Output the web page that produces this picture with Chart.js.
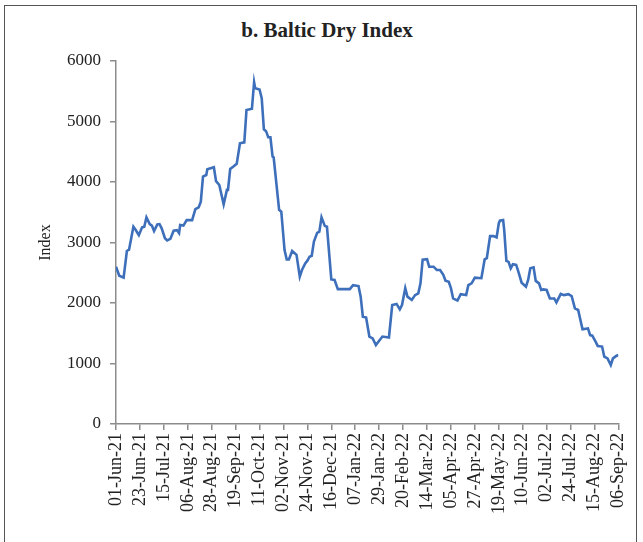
<!DOCTYPE html>
<html>
<head>
<meta charset="utf-8">
<script src="https://cdn.jsdelivr.net/npm/chart.js@4/dist/chart.umd.min.js"></script>
<style>
html,body{margin:0;padding:0;background:#fff;overflow:hidden;}
#frame{position:absolute;left:4px;top:5px;width:633px;height:560px;border:1px solid #555;box-sizing:border-box;}
#title{position:absolute;left:227px;width:200px;top:18px;text-align:center;white-space:nowrap;
  font:bold 21px "Liberation Serif","DejaVu Serif",serif;color:#222;}
#c{position:absolute;left:0;top:0;}
</style>
</head>
<body>
<div id="frame"></div>
<div id="title">b. Baltic Dry Index</div>
<canvas id="c" width="643" height="542"></canvas>
<script>
// Baltic Dry Index, Jun-21 to Sep-22
var startDate = '2021-06-01';
var dates = [
'2021-06-01','2021-06-04','2021-06-08','2021-06-11','2021-06-13','2021-06-17','2021-06-19','2021-06-22','2021-06-25','2021-06-27',
'2021-06-29','2021-07-02','2021-07-04','2021-07-06','2021-07-09','2021-07-11','2021-07-13','2021-07-16','2021-07-18','2021-07-21',
'2021-07-24','2021-07-27','2021-07-29','2021-07-30','2021-08-02','2021-08-05','2021-08-10','2021-08-13','2021-08-16','2021-08-18',
'2021-08-20','2021-08-23','2021-08-24','2021-08-30','2021-09-01','2021-09-04','2021-09-08','2021-09-11','2021-09-12','2021-09-14',
'2021-09-17','2021-09-20','2021-09-23','2021-09-27','2021-09-29','2021-10-04','2021-10-06','2021-10-07','2021-10-11','2021-10-13',
'2021-10-15','2021-10-17','2021-10-19','2021-10-21','2021-10-23','2021-10-24','2021-10-29','2021-10-31','2021-11-03','2021-11-05',
'2021-11-07','2021-11-10','2021-11-14','2021-11-17','2021-11-19','2021-11-22','2021-11-24','2021-11-26','2021-11-28','2021-11-30',
'2021-12-03','2021-12-05','2021-12-07','2021-12-10','2021-12-12','2021-12-16','2021-12-19','2021-12-22','2022-01-02','2022-01-05',
'2022-01-10','2022-01-12','2022-01-14','2022-01-17','2022-01-20','2022-01-23','2022-01-26','2022-01-29','2022-02-01','2022-02-07',
'2022-02-10','2022-02-14','2022-02-17','2022-02-19','2022-02-22','2022-02-24','2022-02-28','2022-03-03','2022-03-06','2022-03-08',
'2022-03-10','2022-03-14','2022-03-16','2022-03-20','2022-03-23','2022-03-26','2022-03-29','2022-03-31','2022-04-03','2022-04-05',
'2022-04-07','2022-04-11','2022-04-14','2022-04-19','2022-04-21','2022-04-24','2022-04-27','2022-05-03','2022-05-06','2022-05-08',
'2022-05-11','2022-05-14','2022-05-17','2022-05-19','2022-05-20','2022-05-23','2022-05-24','2022-05-26','2022-05-28','2022-05-30',
'2022-06-01','2022-06-04','2022-06-06','2022-06-09','2022-06-13','2022-06-15','2022-06-17','2022-06-20','2022-06-22','2022-06-25',
'2022-06-27','2022-06-29','2022-07-02','2022-07-05','2022-07-09','2022-07-11','2022-07-15','2022-07-18','2022-07-22','2022-07-25',
'2022-07-28','2022-07-31','2022-08-04','2022-08-09','2022-08-11','2022-08-13','2022-08-16','2022-08-18','2022-08-22','2022-08-24',
'2022-08-27','2022-08-30','2022-09-01','2022-09-04','2022-09-06'
];
var bdi = [
2600,2450,2420,2860,2880,3260,3210,3120,3250,3260,
3415,3305,3280,3190,3300,3305,3235,3070,3035,3060,
3195,3205,3155,3290,3280,3370,3370,3550,3580,3675,
4090,4115,4210,4245,4015,3950,3630,3870,3870,4215,
4255,4300,4640,4655,5190,5210,5650,5550,5530,5385,
4870,4840,4740,4740,4420,4405,3540,3510,2875,2720,
2720,2860,2795,2435,2545,2655,2700,2765,2780,3015,
3160,3180,3415,3275,3260,2390,2380,2230,2230,2295,
2280,2105,1775,1760,1445,1415,1305,1375,1445,1430,
1965,1985,1895,1965,2245,2105,2050,2130,2160,2325,
2715,2725,2600,2600,2545,2545,2465,2370,2350,2245,
2075,2040,2145,2130,2295,2325,2420,2410,2720,2740,
3105,3105,3085,3315,3360,3370,3205,2695,2680,2575,
2640,2630,2520,2335,2270,2380,2575,2590,2365,2325,
2215,2225,2215,2075,2075,2010,2150,2130,2145,2115,
1910,1885,1565,1580,1470,1460,1360,1290,1280,1115,
1085,975,1085,1125,1140
];
var tickLabels = ['01-Jun-21','23-Jun-21','15-Jul-21','06-Aug-21','28-Aug-21','19-Sep-21','11-Oct-21','02-Nov-21',
'24-Nov-21','16-Dec-21','07-Jan-22','29-Jan-22','20-Feb-22','14-Mar-22','05-Apr-22','27-Apr-22','19-May-22',
'10-Jun-22','02-Jul-22','24-Jul-22','15-Aug-22','06-Sep-22'];
var tickStep = 22;

function dayNum(s){
  var p = s.split('-');
  return Date.UTC(+p[0], +p[1]-1, +p[2]) / 86400000;
}
var d0 = dayNum(startDate);
var points = dates.map(function(d,i){ return {x: dayNum(d)-d0, y: bdi[i]}; });

var serif = '"Liberation Serif", "DejaVu Serif", serif';
var axisCol = '#8c8c8c';

new Chart(document.getElementById('c'), {
  type: 'line',
  data: { datasets: [{ label: 'Baltic Dry Index', data: points, borderColor: '#3d6fbb', borderWidth: 2.6,
    pointRadius: 0, tension: 0, fill: false }]},
  options: {
    responsive: false, animation: false,
    layout: { padding: { left: 0, right: 24, top: 61, bottom: 0 } },
    plugins: { legend: { display: false }, tooltip: { enabled: false }, title: { display: false } },
    scales: {
      x: {
        type: 'linear', min: 0, max: (tickLabels.length-1)*tickStep,
        afterFit: function(s){ s.height = 118; },
        border: { color: axisCol, width: 1.5 },
        grid: { drawOnChartArea: false, drawTicks: true, tickLength: 6, color: axisCol, lineWidth: 1.5 },
        ticks: { stepSize: tickStep, autoSkip: false, minRotation: 90, maxRotation: 90, padding: 3, color: '#222',
          font: { family: serif, size: 18 },
          callback: function(v){ return tickLabels[Math.round(v/tickStep)]; } }
      },
      y: {
        min: 0, max: 6000,
        afterFit: function(s){ s.width = 116; },
        border: { color: axisCol, width: 1.5 },
        grid: { drawOnChartArea: false, drawTicks: true, tickLength: 6, color: axisCol, lineWidth: 1.5 },
        ticks: { stepSize: 1000, padding: 9, color: '#222', font: { family: serif, size: 17 },
          callback: function(v){ return String(v); } },
        title: { display: true, text: 'Index', color: '#222', font: { family: serif, size: 16 }, padding: { top: 36, bottom: 0 } }
      }
    }
  }
});
</script>
</body>
</html>
